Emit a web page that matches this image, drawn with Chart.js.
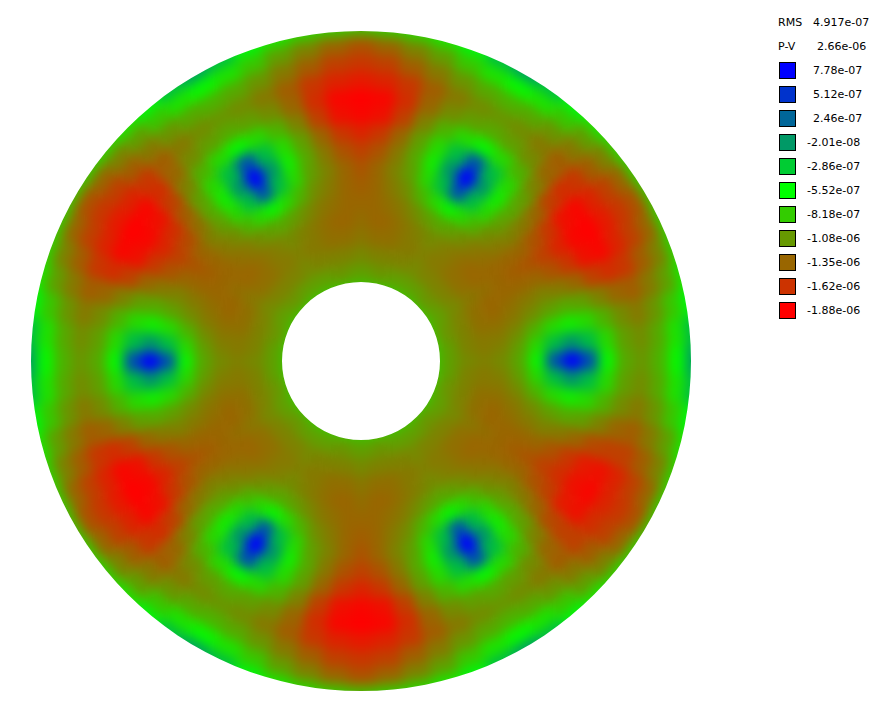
<!DOCTYPE html>
<html lang="en">
<head>
<meta charset="UTF-8">
<title>Surface map</title>
<script src="https://cdn.jsdelivr.net/npm/chart.js"></script>
<style>
    html, body { margin: 0; background: #fff; overflow: hidden; }
    #map { position: absolute; left: 0; top: 0; }
    .txt { position: absolute; font: 11px "DejaVu Sans", sans-serif; color: #000; line-height: 14px; white-space: pre; }
    .box { position: absolute; left: 779px; width: 15px; height: 15px; border: 1px solid #000; }
</style>
</head>
<body>
<canvas id="map" width="722" height="722"></canvas>
<div id="legend"></div>
<script>
// legend values, top to bottom, and their colours
const legendLabels = ['7.78e-07','5.12e-07','2.46e-07','-2.01e-08','-2.86e-07','-5.52e-07','-8.18e-07','-1.08e-06','-1.35e-06','-1.62e-06','-1.88e-06'];
const legendColors = ['#0000ff','#0033cc','#006699','#009966','#00cc33','#00ff00','#33cc00','#669900','#996600','#cc3300','#ff0000'];
const legendStats = [['RMS','4.917e-07',813],['P-V','2.66e-06',817]];

// surface values in units of 1e-7, one list per ring (outer edge first),
// each going clockwise from 12 o'clock in 5 degree steps
const ring01 = [-9,-8.5,-8,-7,-5,-2,-0.5,-2,-5,-7,-8,-8.5,-9,-8.5,-8,-7,-5,-2,-0.5,-2,-5,-7,-8,-8.5,-9,-8.5,-8,-7,-5,-2,-0.5,-2,-5,-7,-8,-8.5,-9,-8.5,-8,-7,-5,-2,-0.5,-2,-5,-7,-8,-8.5,-9,-8.5,-8,-7,-5,-2,-0.5,-2,-5,-7,-8,-8.5,-9,-8.5,-8,-7,-5,-2,-0.5,-2,-5,-7,-8,-8.5];
const ring02 = [-14.5,-13.5,-12,-10.5,-8.5,-7,-6,-7,-8.5,-10.5,-12,-13.5,-14.5,-13.5,-12,-10.5,-8.5,-7,-6,-7,-8.5,-10.5,-12,-13.5,-14.5,-13.5,-12,-10.5,-8.5,-7,-6,-7,-8.5,-10.5,-12,-13.5,-14.5,-13.5,-12,-10.5,-8.5,-7,-6,-7,-8.5,-10.5,-12,-13.5,-14.5,-13.5,-12,-10.5,-8.5,-7,-6,-7,-8.5,-10.5,-12,-13.5,-14.5,-13.5,-12,-10.5,-8.5,-7,-6,-7,-8.5,-10.5,-12,-13.5];
const ring03 = [-16,-15.5,-14,-12.5,-11,-10,-9.5,-10,-11,-12.5,-14,-15.5,-16,-15.5,-14,-12.5,-11,-10,-9.5,-10,-11,-12.5,-14,-15.5,-16,-15.5,-14,-12.5,-11,-10,-9.5,-10,-11,-12.5,-14,-15.5,-16,-15.5,-14,-12.5,-11,-10,-9.5,-10,-11,-12.5,-14,-15.5,-16,-15.5,-14,-12.5,-11,-10,-9.5,-10,-11,-12.5,-14,-15.5,-16,-15.5,-14,-12.5,-11,-10,-9.5,-10,-11,-12.5,-14,-15.5];
const ring04 = [-17.5,-17,-16,-14,-12.5,-11.5,-11,-11.5,-12.5,-14,-16,-17,-17.5,-17,-16,-14,-12.5,-11.5,-11,-11.5,-12.5,-14,-15.5,-17,-17,-16.5,-15.5,-14,-12.5,-11.5,-11,-11.5,-12.5,-14,-16,-17,-17.5,-17,-16,-14,-12.5,-11.5,-11,-11.5,-12.5,-14,-16,-17,-17.5,-17,-16,-14,-12.5,-11.5,-11,-11.5,-12.5,-14,-16,-17,-17.5,-17,-16,-14,-12.5,-11.5,-11,-11.5,-12.5,-14,-16,-17];
const ring05 = [-19,-18.5,-16.5,-13.5,-11.5,-10.5,-10,-10.5,-11.5,-13.5,-16.5,-18.5,-19,-18.5,-16.5,-13.5,-11.5,-10.5,-10,-10.5,-11.5,-13.5,-15.5,-18,-18.5,-18,-15.5,-13.5,-11.5,-10.5,-10,-10.5,-11.5,-13.5,-16.5,-18.5,-19,-18.5,-16.5,-13.5,-11.5,-10.5,-10,-10.5,-11.5,-13.5,-16.5,-18.5,-19,-18.5,-16.5,-13.5,-11.5,-10.5,-10,-10.5,-11.5,-13.5,-16.5,-18.5,-19,-18.5,-16.5,-13.5,-11.5,-10.5,-10,-10.5,-11.5,-13.5,-16.5,-18.5];
const ring06 = [-18.5,-18,-15.5,-12,-9.5,-7.5,-6,-7.5,-9.5,-12,-15.5,-18,-18.5,-18,-15.5,-12,-9.5,-7.5,-6,-7.5,-9.5,-12,-15,-17.5,-18,-17.5,-15,-12,-9.5,-7.5,-6,-7.5,-9.5,-12,-15.5,-18,-18.5,-18,-15.5,-12,-9.5,-7.5,-6,-7.5,-9.5,-12,-15.5,-18,-18.5,-18,-15.5,-12,-9.5,-7.5,-6,-7.5,-9.5,-12,-15.5,-18,-18.5,-18,-15.5,-12,-9.5,-7.5,-6,-7.5,-9.5,-12,-15.5,-18];
const ring07 = [-17,-16,-13.5,-10.5,-7.5,-2,3.5,-2,-7.5,-10.5,-13.5,-16,-17,-16,-13.5,-10.5,-7.5,-2,3.5,-2,-7.5,-10.5,-13.5,-16,-16.5,-15.5,-13.5,-10.5,-7.5,-2,3.5,-2,-7.5,-10.5,-13.5,-16,-17,-16,-13.5,-10.5,-7.5,-2,3.5,-2,-7.5,-10.5,-13.5,-16,-17,-16,-13.5,-10.5,-7.5,-2,3.5,-2,-7.5,-10.5,-13.5,-16,-17,-16.5,-14,-10.5,-7.5,-2,3.5,-2,-7.5,-10.5,-13.5,-16];
const ring08 = [-15.5,-14.5,-12.5,-10,-6.5,0,8,0,-6.5,-10,-12.5,-14.5,-15.5,-14.5,-12.5,-10,-6.5,0,8,0,-6.5,-10,-12.5,-14.5,-15.5,-14.5,-12.5,-10,-6.5,0,8,0,-6.5,-10,-12.5,-14.5,-15.5,-14.5,-12.5,-10,-6.5,0,8,0,-6.5,-10,-12.5,-14.5,-15.5,-14.5,-12.5,-10,-6.5,0,8,0,-6.5,-10,-12.5,-14.5,-15.5,-15,-13,-10,-6.5,0,8,0,-6.5,-10,-12.5,-14.5];
const ring09 = [-14.5,-13.5,-12,-10.5,-7.5,-2,3.5,-2,-7.5,-10.5,-12,-13.5,-14.5,-13.5,-12,-10.5,-7.5,-2,3.5,-2,-7.5,-10.5,-12,-13.5,-14.5,-13.5,-12,-10.5,-7.5,-2,3.5,-2,-7.5,-10.5,-12,-13.5,-14.5,-13.5,-12,-10.5,-7.5,-2,3.5,-2,-7.5,-10.5,-12,-13.5,-14.5,-13.5,-12,-10.5,-7.5,-2,3.5,-2,-7.5,-10.5,-12,-13.5,-14.5,-13.5,-12,-10.5,-7.5,-2,3.5,-2,-7.5,-10.5,-12,-13.5];
const ring10 = [-14,-13.5,-12.5,-11.5,-9.5,-7.5,-6,-7.5,-9.5,-11.5,-12.5,-13.5,-14,-13.5,-12.5,-11.5,-9.5,-7.5,-6,-7.5,-9.5,-11.5,-12.5,-13.5,-14,-13.5,-12.5,-11.5,-9.5,-7.5,-6,-7.5,-9.5,-11.5,-12.5,-13.5,-14,-13.5,-12.5,-11.5,-9.5,-7.5,-6,-7.5,-9.5,-11.5,-12.5,-13.5,-14,-13.5,-12.5,-11.5,-9.5,-7.5,-6,-7.5,-9.5,-11.5,-12.5,-13.5,-14,-13.5,-12.5,-11.5,-9.5,-7.5,-6,-7.5,-9.5,-11.5,-12.5,-13.5];
const ring11 = [-13.5,-13.5,-13,-12.5,-11.5,-10.5,-10,-10.5,-11.5,-12.5,-13,-13.5,-13.5,-13.5,-13,-12.5,-11.5,-10.5,-10,-10.5,-11.5,-12.5,-13,-13.5,-13.5,-13.5,-13,-12.5,-11.5,-10.5,-10,-10.5,-11.5,-12.5,-13,-13.5,-13.5,-13.5,-13,-12.5,-11.5,-10.5,-10,-10.5,-11.5,-12.5,-13,-13.5,-13.5,-13.5,-13,-12.5,-11.5,-10.5,-10,-10.5,-11.5,-12.5,-13,-13.5,-13.5,-13.5,-13,-12.5,-11.5,-10.5,-10,-10.5,-11.5,-12.5,-13,-13.5];
const ring12 = [-13,-13.5,-13.5,-13,-12.5,-12,-11.5,-12,-12.5,-13,-13.5,-13.5,-13,-13.5,-13.5,-13,-12.5,-12,-11.5,-12,-12.5,-13,-13.5,-13.5,-13,-13.5,-13.5,-13,-12.5,-12,-11.5,-12,-12.5,-13,-13.5,-13.5,-13,-13.5,-13.5,-13,-12.5,-12,-11.5,-12,-12.5,-13,-13.5,-13.5,-13,-13.5,-13.5,-13,-12.5,-12,-11.5,-12,-12.5,-13,-13.5,-13.5,-13,-13.5,-13.5,-13,-12.5,-12,-11.5,-12,-12.5,-13,-13.5,-13.5];
const ring13 = [-12.5,-13,-13,-13,-12.5,-12.5,-12,-12.5,-12.5,-13,-13,-13,-12.5,-13,-13,-13,-12.5,-12.5,-12,-12.5,-12.5,-13,-13,-13,-12.5,-13,-13,-13,-12.5,-12.5,-12,-12.5,-12.5,-13,-13,-13,-12.5,-13,-13,-13,-12.5,-12.5,-12,-12.5,-12.5,-13,-13,-13,-12.5,-13,-13,-13,-12.5,-12.5,-12,-12.5,-12.5,-13,-13,-13,-12.5,-13,-13,-13,-12.5,-12.5,-12,-12.5,-12.5,-13,-13,-13];
const ring14 = [-11.5,-12,-12,-12,-12,-12,-11.5,-12,-12,-12,-12,-12,-11.5,-12,-12,-12,-12,-12,-11.5,-12,-12,-12,-12,-12,-11.5,-12,-12,-12,-12,-12,-11.5,-12,-12,-12,-12,-12,-11.5,-12,-12,-12,-12,-12,-11.5,-12,-12,-12,-12,-12,-11.5,-12,-12,-12,-12,-12,-11.5,-12,-12,-12,-12,-12,-11.5,-12,-12,-12,-12,-12,-11.5,-12,-12,-12,-12,-12];
const ring15 = [-10.5,-10.5,-11,-11,-10.5,-10.5,-10.5,-10.5,-10.5,-11,-11,-10.5,-10.5,-10.5,-11,-11,-10.5,-10.5,-10.5,-10.5,-10.5,-11,-11,-10.5,-10.5,-10.5,-11,-11,-10.5,-10.5,-10.5,-10.5,-10.5,-11,-11,-10.5,-10.5,-10.5,-11,-11,-10.5,-10.5,-10.5,-10.5,-10.5,-11,-11,-10.5,-10.5,-10.5,-11,-11,-10.5,-10.5,-10.5,-10.5,-10.5,-11,-11,-10.5,-10.5,-10.5,-11,-11,-10.5,-10.5,-10.5,-10.5,-10.5,-11,-11,-10.5];
const ring16 = [-8.5,-8.5,-8.5,-8.5,-8.5,-8.5,-8.5,-8.5,-8.5,-8.5,-8.5,-8.5,-8.5,-8.5,-8.5,-8.5,-8.5,-8.5,-8.5,-8.5,-8.5,-8.5,-8.5,-8.5,-8.5,-8.5,-8.5,-8.5,-8.5,-8.5,-8.5,-8.5,-8.5,-8.5,-8.5,-8.5,-8.5,-8.5,-8.5,-8.5,-8.5,-8.5,-8.5,-8.5,-8.5,-8.5,-8.5,-8.5,-8.5,-8.5,-8.5,-8.5,-8.5,-8.5,-8.5,-8.5,-8.5,-8.5,-8.5,-8.5,-8.5,-8.5,-8.5,-8.5,-8.5,-8.5,-8.5,-8.5,-8.5,-8.5,-8.5,-8.5];

const rings = [ring01,ring02,ring03,ring04,ring05,ring06,ring07,ring08,ring09,ring10,ring11,ring12,ring13,ring14,ring15,ring16];
const legendValues = [7.78,5.12,2.46,-0.201,-2.86,-5.52,-8.18,-10.8,-13.5,-16.2,-18.8];

// value -> colour, mixing the two nearest legend colours
function hex(c, i) { return parseInt(c.substr(1 + i * 2, 2), 16); }
function colorFor(v) {
    if (v >= legendValues[0]) return legendColors[0];
    for (let i = 1; i < legendValues.length; i++) {
        if (v >= legendValues[i]) {
            let t = (v - legendValues[i]) / (legendValues[i - 1] - legendValues[i]);
            let p = [0, 1, 2].map(k => Math.round(hex(legendColors[i], k) + t * (hex(legendColors[i - 1], k) - hex(legendColors[i], k))));
            return 'rgb(' + p.join(',') + ')';
        }
    }
    return legendColors[legendColors.length - 1];
}

// smooths the cells inside the annulus, like the shaded original
const smooth = {
    id: 'smooth',
    afterDraw(chart) {
        let arc = chart.getDatasetMeta(0).data[0];
        let off = document.createElement('canvas');
        off.width = chart.canvas.width;
        off.height = chart.canvas.height;
        off.getContext('2d').drawImage(chart.canvas, 0, 0);
        let c = chart.ctx;
        c.save();
        c.clearRect(0, 0, off.width, off.height);
        c.beginPath();
        c.arc(arc.x, arc.y, 330, 0, Math.PI * 2);
        c.arc(arc.x, arc.y, 79, 0, Math.PI * 2, true);
        c.clip();
        c.filter = 'blur(6px)';
        c.drawImage(off, 0, 0);
        c.restore();
    }
};

new Chart(document.getElementById('map'), {
    type: 'doughnut',
    data: {
        labels: ring01.map((v, i) => i * 5),
        datasets: rings.map(r => ({
            // every cell spans the same angle, the value only sets its colour
            data: r.map(() => 1),
            values: r,
            backgroundColor: r.map(colorFor),
            borderColor: r.map(colorFor),
            borderWidth: 1
        }))
    },
    options: {
        responsive: false,
        animation: false,
        cutout: 63,
        rotation: -2.5,
        layout: { padding: 18 },
        plugins: { legend: { display: false }, tooltip: { enabled: false } }
    },
    plugins: [smooth]
});

// legend on the right
let legend = document.getElementById('legend');
function addText(s, x, y) {
    let d = document.createElement('div');
    d.className = 'txt';
    d.textContent = s;
    d.style.left = x + 'px';
    d.style.top = y + 'px';
    legend.appendChild(d);
}
legendStats.forEach((s, i) => {
    addText(s[0], 778, 16 + i * 24);
    addText(s[1], s[2], 16 + i * 24);
});
legendLabels.forEach((s, i) => {
    let y = 70 + i * 24;
    let b = document.createElement('div');
    b.className = 'box';
    b.style.top = (y - 8) + 'px';
    b.style.background = legendColors[i];
    legend.appendChild(b);
    addText(s, s[0] === '-' ? 807 : 813, y - 6);
});
</script>
</body>
</html>
